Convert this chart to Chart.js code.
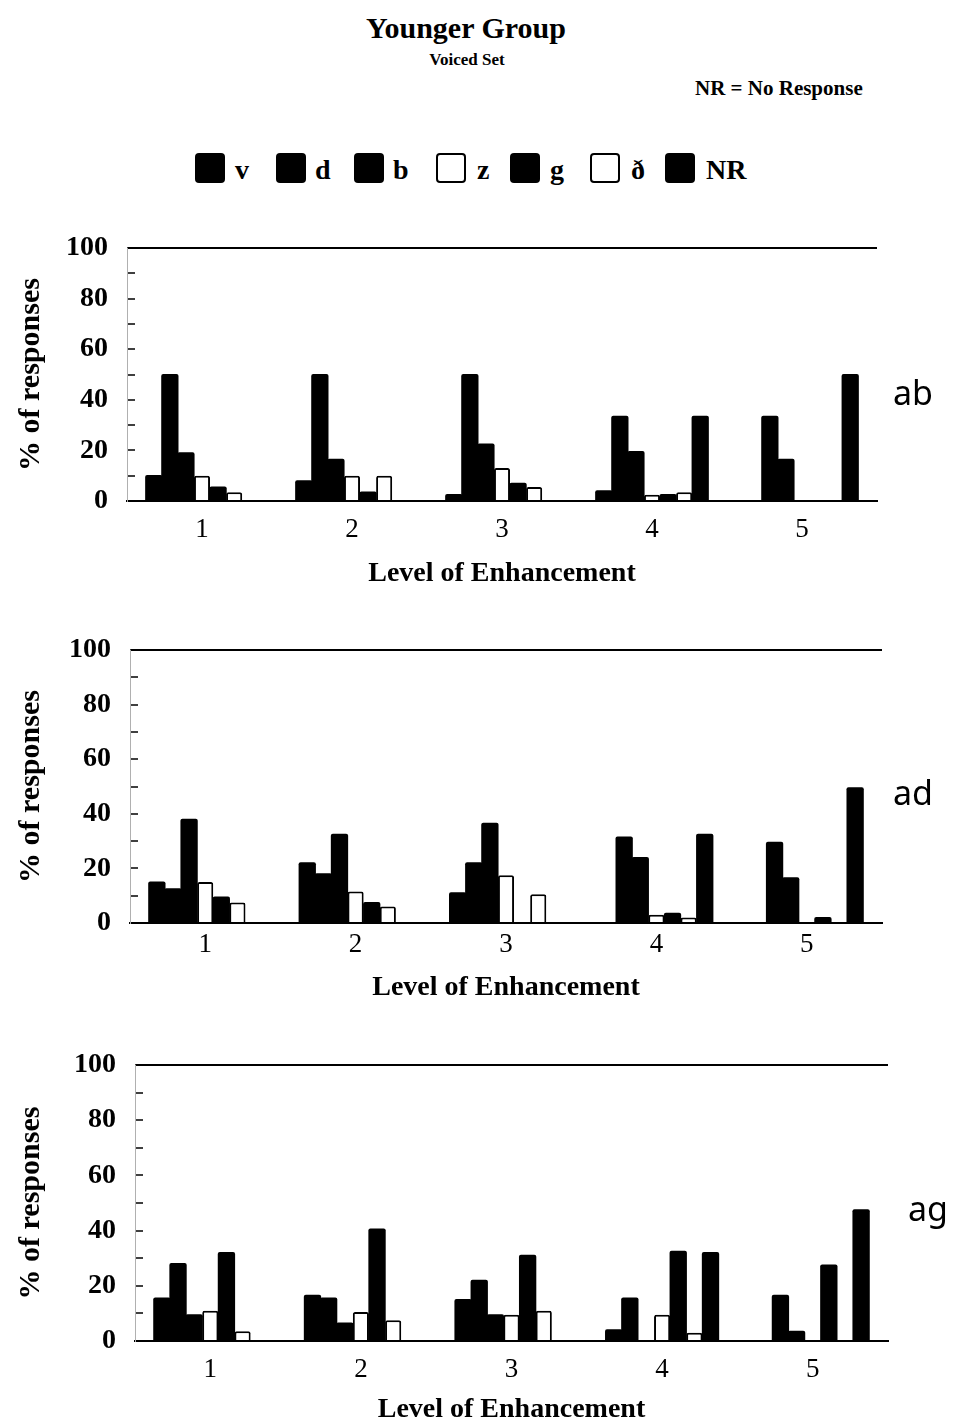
<!DOCTYPE html>
<html>
<head>
<meta charset="utf-8">
<script src="https://cdn.jsdelivr.net/npm/chart.js@4.4.1/dist/chart.umd.min.js"></script>
<style>
  body { margin:0; background:#fff; width:956px; height:1427px; position:relative; overflow:hidden;
         font-family:'Liberation Serif','Times New Roman',serif; color:#000; }
  .t { position:absolute; white-space:nowrap; font-weight:bold; line-height:1; }
  .sw { position:absolute; width:30px; height:30px; border-radius:4px; box-sizing:border-box; background:#000; }
  .sw.o { background:#fff; border:2.5px solid #000; }
  canvas { position:absolute; left:0; }
  .pl { position:absolute; font-family:'Noto Sans',sans-serif; font-size:34px; line-height:1; white-space:nowrap; }
</style>
</head>
<body>
<div class="t" style="left:466px;top:13px;font-size:30px;transform:translateX(-50%)">Younger Group</div>
<div class="t" style="left:467px;top:51px;font-size:17px;transform:translateX(-50%)">Voiced Set</div>
<div class="t" style="left:695px;top:78px;font-size:21px">NR = No Response</div>
<div id="legend"></div>

<script>
// Levels of enhancement (x categories)
const levels = ['1', '2', '3', '4', '5'];

// Response categories; z and ð are drawn as hollow bars
const seriesNames = ['v', 'd', 'b', 'z', 'g', 'ð', 'NR'];
const hollow = [false, false, false, true, false, true, false];

// y-axis ticks (labelled every 20, minor marks every 10)
const yTicks = [0, 10, 20, 30, 40, 50, 60, 70, 80, 90, 100];

// /ab/ stimuli — % of responses
const ab_v  = [10, 8, 2.5, 4, 0];
const ab_d  = [50, 50, 50, 33.5, 33.5];
const ab_b  = [19, 16.5, 22.5, 19.5, 16.5];
const ab_z  = [10, 10, 13, 2.5, 0];
const ab_g  = [5.5, 3.5, 7, 2.5, 0];
const ab_dh = [3.5, 10, 5.5, 3.5, 0];
const ab_nr = [0, 0, 0, 33.5, 50];

// /ad/ stimuli — % of responses
const ad_v  = [15, 22, 11, 0, 0];
const ad_d  = [12.5, 18, 22, 31.5, 29.5];
const ad_b  = [38, 32.5, 36.5, 24, 16.5];
const ad_z  = [15, 11.5, 17.5, 3, 0];
const ad_g  = [9.5, 7.5, 0, 3.5, 2];
const ad_dh = [7.5, 6, 10.5, 2, 0];
const ad_nr = [0, 0, 0, 32.5, 49.5];

// /ag/ stimuli — % of responses
const ag_v  = [15.5, 16.5, 15, 4, 0];
const ag_d  = [28, 15.5, 22, 15.5, 16.5];
const ag_b  = [9.5, 6.5, 9.5, 0, 3.5];
const ag_z  = [11, 10.5, 9.5, 9.5, 0];
const ag_g  = [32, 40.5, 31, 32.5, 27.5];
const ag_dh = [3.5, 7.5, 11, 3, 0];
const ag_nr = [0, 0, 0, 32, 47.5];

const SERIF = "'Liberation Serif','Times New Roman',serif";

// Legend row
const legendX = [195, 276, 354, 436, 510, 590, 665];
const legendTextX = [235, 315, 393, 477, 550, 631, 706];
const legendEl = document.getElementById('legend');
seriesNames.forEach((name, i) => {
  const sw = document.createElement('div');
  sw.className = 'sw' + (hollow[i] ? ' o' : '');
  sw.style.left = legendX[i] + 'px';
  sw.style.top = '153px';
  legendEl.appendChild(sw);
  const tx = document.createElement('div');
  tx.className = 't';
  tx.style.left = legendTextX[i] + 'px';
  tx.style.top = '156px';
  tx.style.fontSize = '28px';
  tx.textContent = name;
  legendEl.appendChild(tx);
});

// Panel layouts
const panels = [
  { name: 'ab', series: [ab_v, ab_d, ab_b, ab_z, ab_g, ab_dh, ab_nr],
    top: 200, h: 400, padTop: 48, left: 127, padRight: 79, xH: 99, xTickPad: 13, xTitlePad: 9,
    labelLeft: 893, labelTop: 375 },
  { name: 'ad', series: [ad_v, ad_d, ad_b, ad_z, ad_g, ad_dh, ad_nr],
    top: 600, h: 420, padTop: 50, left: 130, padRight: 74, xH: 97, xTickPad: 6, xTitlePad: 15,
    labelLeft: 893, labelTop: 775 },
  { name: 'ag', series: [ag_v, ag_d, ag_b, ag_z, ag_g, ag_dh, ag_nr],
    top: 1020, h: 407, padTop: 45, left: 135, padRight: 68, xH: 86, xTickPad: 13, xTitlePad: 0,
    labelLeft: 908, labelTop: 1191 }
];

function makePanel(p) {
  const cv = document.createElement('canvas');
  cv.width = 956; cv.height = p.h;
  cv.style.top = p.top + 'px';
  document.body.appendChild(cv);

  const lab = document.createElement('div');
  lab.className = 'pl';
  lab.style.left = p.labelLeft + 'px';
  lab.style.top = p.labelTop + 'px';
  lab.textContent = p.name;
  document.body.appendChild(lab);

  new Chart(cv, {
    type: 'bar',
    data: {
      labels: levels,
      datasets: seriesNames.map((n, i) => ({
        label: n,
        data: p.series[i],
        backgroundColor: hollow[i] ? '#fff' : '#000',
        borderColor: '#000',
        borderWidth: hollow[i] ? 2 : 0,
        borderRadius: 2,
        inflateAmount: hollow[i] ? 0 : 0.6,
        categoryPercentage: 0.75,
        barPercentage: 1
      }))
    },
    options: {
      responsive: false,
      animation: false,
      devicePixelRatio: 1,
      layout: { padding: { top: p.padTop, right: p.padRight, left: 0, bottom: 0 } },
      plugins: { legend: { display: false }, tooltip: { enabled: false } },
      scales: {
        x: {
          grid: { display: false, drawTicks: false },
          border: { display: true, color: '#000', width: 2 },
          ticks: { font: { family: SERIF, size: 27 }, color: '#000', padding: p.xTickPad },
          title: { display: true, text: 'Level of Enhancement', color: '#000',
                   font: { family: SERIF, size: 28, weight: 'bold' },
                   padding: { top: 0, bottom: p.xTitlePad } },
          afterFit: s => { s.height = p.xH; }
        },
        y: {
          min: 0, max: 100,
          afterBuildTicks: s => { s.ticks = yTicks.map(v => ({ value: v })); },
          ticks: { autoSkip: false, color: '#000', padding: 27,
                   font: { family: SERIF, size: 28, weight: 'bold' },
                   callback: v => (v % 20 === 0 ? String(v) : '') },
          grid: {
            color: c => (c.tick && c.tick.value === 100 ? '#000' : 'rgba(0,0,0,0)'),
            lineWidth: 2,
            tickColor: '#000',
            tickWidth: 1.5,
            tickLength: -8
          },
          border: { display: true, color: '#b0b0b0', width: 1 },
          title: { display: true, text: '% of responses', color: '#000',
                   font: { family: SERIF, size: 30, weight: 'bold' },
                   padding: { top: 13, bottom: 0 } },
          afterFit: s => { s.width = p.left; }
        }
      }
    }
  });
}

panels.forEach(makePanel);
</script>
</body>
</html>
